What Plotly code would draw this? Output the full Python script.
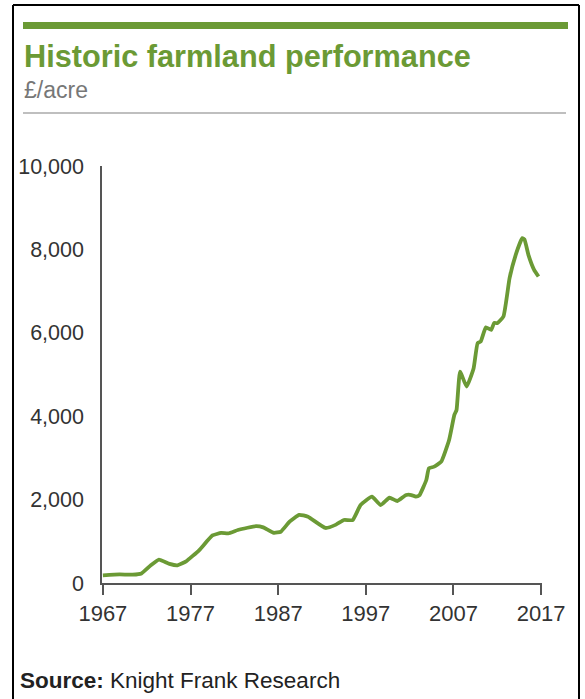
import plotly.graph_objects as go

# Data (year, £/acre)
years = [1967.0, 1968.9, 1970.4, 1971.4, 1972.5, 1973.4, 1974.6, 1975.5, 1976.5,
         1978.0, 1979.5, 1980.5, 1981.3, 1982.4, 1983.5, 1984.5, 1985.3, 1986.5,
         1987.3, 1988.3, 1989.4, 1990.4, 1992.4, 1993.6, 1994.5, 1995.5, 1996.4,
         1997.7, 1998.7, 1999.7, 2000.6, 2001.6, 2002.2, 2002.7, 2003.1, 2003.9,
         2004.2, 2004.8, 2005.6, 2006.5, 2007.1, 2007.35, 2007.75, 2008.5, 2009.3,
         2009.75, 2010.1, 2010.7, 2011.3, 2011.65, 2012.0, 2012.7, 2013.4, 2014.1,
         2014.85, 2015.1, 2015.55, 2016.2, 2016.7]
values = [185, 205, 200, 230, 430, 560, 460, 425, 520,
          790, 1140, 1200, 1190, 1270, 1325, 1365, 1335, 1205,
          1230, 1470, 1635, 1590, 1320, 1400, 1510, 1510, 1870,
          2070, 1870, 2045, 1965, 2110, 2110, 2070, 2100, 2470,
          2750, 2790, 2910, 3430, 4030, 4150, 5070, 4710, 5150,
          5750, 5790, 6130, 6070, 6240, 6230, 6390, 7310, 7870,
          8270, 8240, 7870, 7510, 7350]

x_ticks = [1967, 1977, 1987, 1997, 2007, 2017]
y_ticks = [0, 2000, 4000, 6000, 8000, 10000]
y_tick_labels = ["0", "2,000", "4,000", "6,000", "8,000", "10,000"]

title_text = "Historic farmland performance"
subtitle_text = "£/acre"
source_text = "<b>Source:</b> Knight Frank Research"

GREEN = "#6b9a35"
W, H = 585, 699
L, R, T, B = 102, 43, 166, 116
PW, PH = W - L - R, H - T - B


def px(x):
    return (x - L) / PW


def py(y):
    return (H - B - y) / PH


fig = go.Figure()
fig.add_trace(go.Scatter(x=years, y=values, mode="lines",
                         line=dict(color=GREEN, width=3.8, shape="spline", smoothing=0.4),
                         hoverinfo="skip", showlegend=False))

font_family = "Liberation Sans, Arial, sans-serif"

fig.update_layout(
    width=W, height=H,
    margin=dict(l=L, r=R, t=T, b=B),
    paper_bgcolor="white", plot_bgcolor="white",
    font=dict(family=font_family, color="#333333"),
    xaxis=dict(range=[1966.9, 2017.1], tickvals=x_ticks, ticktext=[str(v) for v in x_ticks],
               showgrid=False, zeroline=False, showline=True, linecolor="#555555", linewidth=1.5,
               ticks="outside", ticklen=10, tickwidth=1.5, tickcolor="#555555",
               tickfont=dict(size=22, color="#333333")),
    yaxis=dict(range=[0, 10000], tickvals=y_ticks, ticktext=y_tick_labels,
               showgrid=False, zeroline=False, showline=True, linecolor="#555555", linewidth=1.5,
               ticks="", ticklabelstandoff=12,
               tickfont=dict(size=21.5, color="#333333")),
    shapes=[
        # outer frame
        dict(type="line", xref="paper", yref="paper", x0=px(13), x1=px(13), y0=py(5), y1=py(710),
             line=dict(color="black", width=2)),
        dict(type="line", xref="paper", yref="paper", x0=px(579), x1=px(579), y0=py(5), y1=py(710),
             line=dict(color="black", width=2)),
        dict(type="line", xref="paper", yref="paper", x0=px(13), x1=px(579), y0=py(5), y1=py(5),
             line=dict(color="black", width=2)),
        # green bar
        dict(type="rect", xref="paper", yref="paper", x0=px(23), x1=px(568), y0=py(22), y1=py(29),
             fillcolor=GREEN, line=dict(width=0)),
        # gray rule
        dict(type="line", xref="paper", yref="paper", x0=px(23), x1=px(566), y0=py(113), y1=py(113),
             line=dict(color="#aaaaaa", width=1.5)),
    ],
    annotations=[
        dict(text="<b>" + title_text + "</b>", xref="paper", yref="paper", x=px(22), y=py(56),
             xanchor="left", yanchor="middle", showarrow=False,
             font=dict(size=30.7, color=GREEN, family=font_family)),
        dict(text=subtitle_text, xref="paper", yref="paper", x=px(22), y=py(90),
             xanchor="left", yanchor="middle", showarrow=False,
             font=dict(size=23, color="#777777", family=font_family)),
        dict(text=source_text, xref="paper", yref="paper", x=px(18), y=py(680),
             xanchor="left", yanchor="middle", showarrow=False,
             font=dict(size=22.5, color="#222222", family=font_family)),
    ],
)

fig.write_html("out.html")
